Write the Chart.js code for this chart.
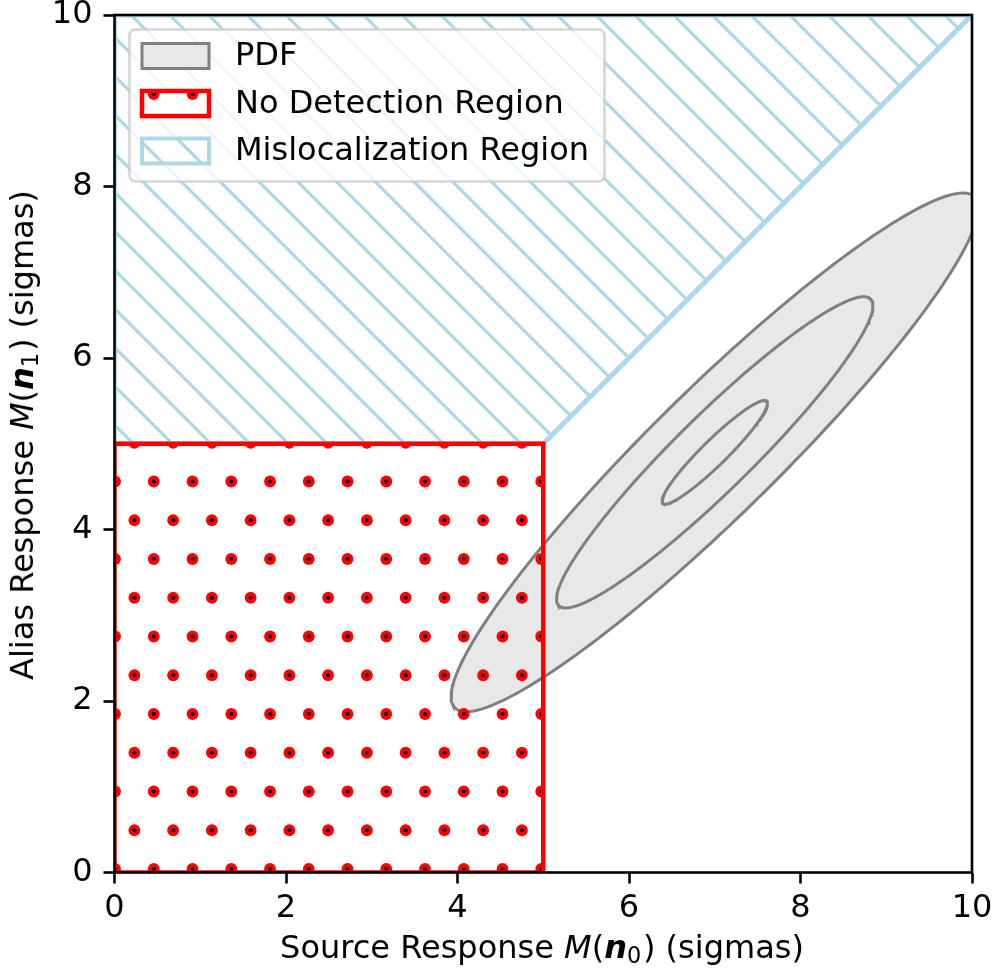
<!DOCTYPE html>
<html>
<head>
<meta charset="utf-8">
<script src="https://cdn.jsdelivr.net/npm/chart.js@4.4.1/dist/chart.umd.min.js"></script>
<style>
    html, body { margin: 0; padding: 0; background: #fff; }
    #wrap { position: relative; width: 996px; height: 975px; }
    #chart { position: absolute; left: 0; top: 0; }
    .axis-title {
        position: absolute;
        font-family: 'DejaVu Sans', sans-serif;
        font-size: 32px;
        line-height: 1;
        color: #000;
        white-space: nowrap;
    }
    .axis-title .sub { font-size: 0.7em; position: relative; top: 0.22em; padding-right: 0.08em; }
    #xTitle { left: 542px; top: 947px; transform: translate(-50%, -50%); }
    #yTitle { left: 22px; top: 435px; transform: translate(-50%, -50%) rotate(-90deg); }
</style>
</head>
<body>
<div id="wrap">
    <canvas id="chart" width="996" height="975"></canvas>
    <div id="xTitle" class="axis-title">Source Response <i>M</i>(<b><i>n</i></b><span class="sub">0</span>) (sigmas)</div>
    <div id="yTitle" class="axis-title">Alias Response <i>M</i>(<b><i>n</i></b><span class="sub">1</span>) (sigmas)</div>
</div>
<script>
// axis range and ticks
const axisMin = 0;
const axisMax = 10;
const tickValues = [0, 2, 4, 6, 8, 10];

// no detection region (red box)
const noDetectionX = [0, 0, 5, 5, 0];
const noDetectionY = [0, 5, 5, 0, 0];

// mislocalization region (blue hatch, above y = x and y = 5)
const mislocX = [0, 5, 10, 0, 0];
const mislocY = [5, 5, 10, 10, 5];

// PDF contours: centre, 1-sigma semi axes, tilt and the sigma levels drawn
const pdfCenter = [7.0, 4.9];
const pdfSigmaAxes = [0.85, 0.147];
const pdfAngle = 44.5;
const contourSigmas = [1, 3, 5];

const legendLabels = ['PDF', 'No Detection Region', 'Mislocalization Region'];

const FONT = "'DejaVu Sans', sans-serif";
const HATCH = 38.75; // hatch spacing in px

// hatch patterns (tile of 4 hatch steps, anchored to the canvas origin)
function makePattern(drawTile) {
    const tile = document.createElement('canvas');
    tile.width = 155;
    tile.height = 155;
    const g = tile.getContext('2d');
    drawTile(g);
    return g.createPattern(tile, 'repeat');
}

const dotPattern = makePattern(function (g) {
    for (let j = -1; j <= 4; j++) {
        const y = 16.5 + j * HATCH;
        const x0 = (((j % 2) + 2) % 2 === 0) ? 37.5 : 56.875;
        for (let k = -2; k <= 5; k++) {
            const x = x0 + k * HATCH;
            g.fillStyle = '#ff0000';
            g.beginPath(); g.arc(x, y, 5.9, 0, Math.PI * 2); g.fill();
            g.fillStyle = '#000000';
            g.beginPath(); g.arc(x, y, 2.1, 0, Math.PI * 2); g.fill();
        }
    }
});

const linePattern = makePattern(function (g) {
    g.strokeStyle = '#add8e6';
    g.lineWidth = 3.2;
    for (let k = -6; k <= 6; k++) {
        const c = -0.3 + k * HATCH;
        g.beginPath();
        g.moveTo(c - 20, -20);
        g.lineTo(c + 175, 175);
        g.stroke();
    }
});

function toPoints(xs, ys) {
    return xs.map((x, i) => ({ x: x, y: ys[i] }));
}

// outline of a PDF contour at n sigma
function ellipsePoints(nSigma) {
    const pts = [];
    const th = pdfAngle * Math.PI / 180;
    const a = pdfSigmaAxes[0] * nSigma;
    const b = pdfSigmaAxes[1] * nSigma;
    for (let i = 0; i <= 240; i++) {
        const t = i / 240 * Math.PI * 2;
        const u = a * Math.cos(t);
        const v = b * Math.sin(t);
        pts.push({
            x: pdfCenter[0] + u * Math.cos(th) - v * Math.sin(th),
            y: pdfCenter[1] + u * Math.sin(th) + v * Math.cos(th)
        });
    }
    return pts;
}

const datasets = [
    {
        label: legendLabels[1],
        data: toPoints(noDetectionX, noDetectionY),
        borderColor: '#ff0000',
        borderWidth: 4.5,
        backgroundColor: dotPattern,
        fill: 'shape'
    },
    {
        label: legendLabels[2],
        data: toPoints(mislocX, mislocY),
        borderColor: '#add8e6',
        borderWidth: 5,
        backgroundColor: linePattern,
        fill: 'shape'
    }
];

// largest contour carries the grey fill, drawn underneath
contourSigmas.forEach(function (s, i) {
    const outer = i === contourSigmas.length - 1;
    datasets.push({
        label: outer ? legendLabels[0] : 'PDF ' + s + 'σ',
        data: ellipsePoints(s),
        borderColor: '#808080',
        borderWidth: 3,
        backgroundColor: '#e8e8e8',
        fill: outer ? 'shape' : false
    });
});

datasets.forEach(function (d) {
    d.showLine = true;
    d.pointRadius = 0;
    d.pointHoverRadius = 0;
    d.tension = 0;
    d.borderJoinStyle = 'miter';
});

// axes frame on top of the patches
const framePlugin = {
    id: 'frame',
    afterDatasetsDraw(chart) {
        const a = chart.chartArea;
        const ctx = chart.ctx;
        ctx.save();
        ctx.strokeStyle = '#000';
        ctx.lineWidth = 2.6;
        ctx.strokeRect(a.left, a.top, a.right - a.left, a.bottom - a.top);
        ctx.restore();
    }
};

// matplotlib style legend in the upper left corner
const legendPlugin = {
    id: 'mplLegend',
    afterDraw(chart) {
        const ctx = chart.ctx;
        const box = { x: 129.5, y: 29.5, w: 475, h: 152, r: 6 };
        ctx.save();
        ctx.beginPath();
        ctx.roundRect(box.x, box.y, box.w, box.h, box.r);
        ctx.fillStyle = 'rgba(255,255,255,0.8)';
        ctx.fill();
        ctx.strokeStyle = 'rgba(204,204,204,0.8)';
        ctx.lineWidth = 2.6;
        ctx.stroke();

        const handles = [
            { fill: '#e8e8e8', stroke: '#808080', width: 3 },
            { fill: dotPattern, stroke: '#ff0000', width: 4.5 },
            { fill: linePattern, stroke: '#add8e6', width: 4 }
        ];
        const rowY = [56, 103.5, 151];
        handles.forEach(function (h, i) {
            const y = rowY[i] - 12.5;
            ctx.fillStyle = '#fff';
            ctx.fillRect(142, y, 67, 25);
            ctx.fillStyle = h.fill;
            ctx.fillRect(142, y, 67, 25);
            ctx.strokeStyle = h.stroke;
            ctx.lineWidth = h.width;
            ctx.strokeRect(142, y, 67, 25);

            ctx.fillStyle = '#000';
            ctx.font = '32px ' + FONT;
            ctx.textBaseline = 'middle';
            ctx.textAlign = 'left';
            ctx.fillText(legendLabels[i], 235, rowY[i] + 1);
        });
        ctx.restore();
    }
};

function fixedScale(size, horizontal) {
    return function (scale) {
        if (horizontal) scale.height = size; else scale.width = size;
        scale.paddingLeft = 0;
        scale.paddingRight = 0;
        scale.paddingTop = 0;
        scale.paddingBottom = 0;
    };
}

function axisOptions(horizontal) {
    return {
        type: 'linear',
        min: axisMin,
        max: axisMax,
        afterBuildTicks: function (scale) {
            scale.ticks = tickValues.map(v => ({ value: v }));
        },
        afterFit: fixedScale(horizontal ? 102.5 : 114.5, horizontal),
        ticks: {
            autoSkip: false,
            maxRotation: 0,
            color: '#000',
            padding: horizontal ? 6 : 11,
            font: { family: FONT, size: 32 }
        },
        grid: {
            drawOnChartArea: false,
            tickLength: 11,
            tickWidth: 2.6,
            tickColor: '#000'
        },
        border: { display: false }
    };
}

new Chart(document.getElementById('chart'), {
    type: 'scatter',
    data: { datasets: datasets },
    options: {
        responsive: false,
        animation: false,
        layout: { padding: { left: 0, top: 15, right: 24, bottom: 0 } },
        plugins: {
            legend: { display: false },
            tooltip: { enabled: false }
        },
        scales: {
            x: axisOptions(true),
            y: axisOptions(false)
        }
    },
    plugins: [framePlugin, legendPlugin]
});
</script>
</body>
</html>
